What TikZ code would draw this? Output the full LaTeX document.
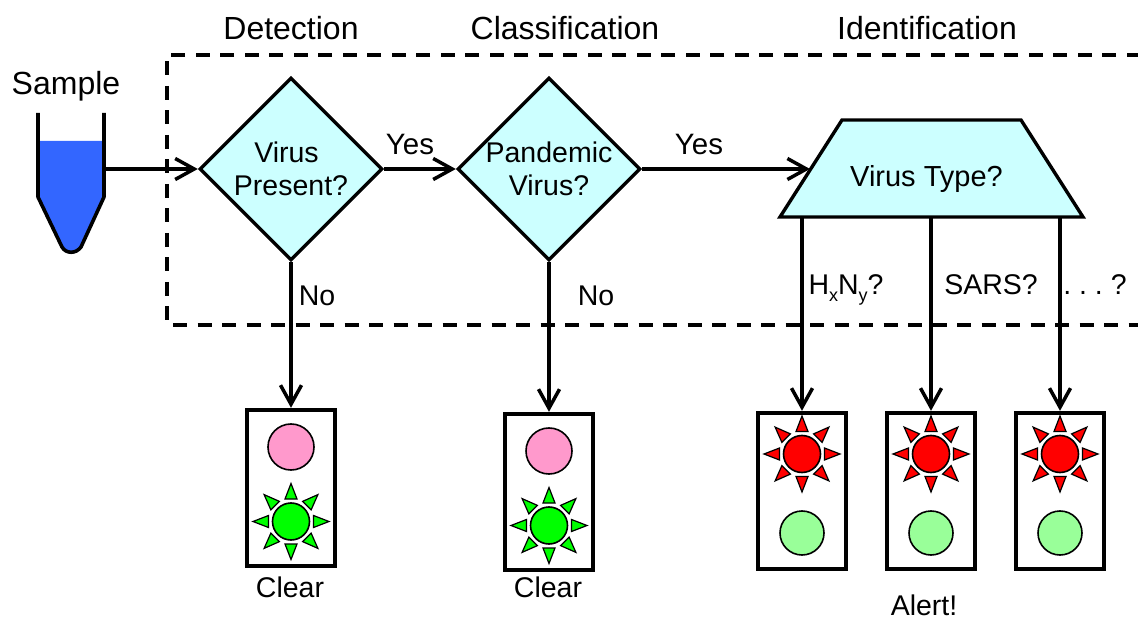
\documentclass[tikz,border=0pt]{standalone}
\usepackage{fontspec}
\setmainfont{Liberation Sans}
\usetikzlibrary{shapes.geometric,arrows.meta}
\definecolor{decision}{HTML}{CCFFFF}
\definecolor{liquid}{HTML}{3366FF}
\definecolor{pinkoff}{HTML}{FF99CC}
\definecolor{greenon}{HTML}{00FF00}
\definecolor{greenoff}{HTML}{99FF99}
\definecolor{redon}{HTML}{FF0000}
\frenchspacing
\newcommand{\lowsub}[1]{\raisebox{-6.5pt}{\fontsize{18}{18}\selectfont #1}}
\tikzset{
  lbl/.style={font=\fontsize{28.5}{33}\selectfont,anchor=base,inner sep=0pt,align=center},
  yeslbl/.style={font=\fontsize{29.5}{33}\selectfont,anchor=base,inner sep=0pt},
  heading/.style={font=\fontsize{32}{36}\selectfont,anchor=base,inner sep=0pt},
  decide/.style={diamond,aspect=1,draw=black,fill=decision,line width=3.4pt,inner sep=0pt,
     minimum width=183pt,minimum height=183pt,align=center,font=\fontsize{28.5}{33}\selectfont},
  vtype/.style={draw=black,fill=decision,line width=3.4pt,line join=miter},
  conn/.style={line width=3.5pt,-{Straight Barb[length=19pt,width=21pt,line width=3.5pt]}},
  frame/.style={draw=black,line width=4.4pt,inner sep=0pt,minimum width=88pt,minimum height=156pt},
  lamp/.style={circle,draw=black,line width=1.6pt,inner sep=0pt,minimum size=#1},
  ray/.style={draw=black,line width=1.2pt,line join=miter},
  boxdash/.style={line width=3.6pt,dash pattern=on 14pt off 10.5pt,dash phase=2.5pt},
  tube/.style={draw=black,line width=3.6pt,line join=round},
}
\newcommand{\sunrays}[2]{%
  \foreach \a in {0,45,...,315}{%
    \filldraw[fill=#2,ray] ([shift={(\a:38)}]#1.center)
      -- ([shift={(\a:22.5)},shift={(\a+90:6)}]#1.center)
      -- ([shift={(\a:22.5)},shift={(\a-90:6)}]#1.center) -- cycle;
  }}
\begin{document}
\begin{tikzpicture}[x=1pt,y=-1pt]
\useasboundingbox (0,0) rectangle (1138,620);
% dashed frame
\draw[boxdash] (1138,55) -- (167,55) -- (167,325) -- (1138,325);
% headings
\node[heading] (hdet) at (291,40) {Detection};
\node[heading] (hcla) at (565,40) {Classification};
\node[heading] (hide) at (927,40) {Identification};
\node[heading] (hsam) at (66,95) {Sample};
% tube
\fill[liquid] (38,141) -- (38,197) -- (62,247) .. controls (66,254) and (76,254) .. (81,247) -- (104,197) -- (104,141) -- cycle;
\draw[tube] (38,113) -- (38,197) -- (62,247) .. controls (66,254) and (76,254) .. (81,247) -- (104,197) -- (104,113);
\coordinate (tubeout) at (104,169);
% decisions
\node[decide] (d1) at (291,169) {\hspace*{-9pt}Virus\\Present?};
\node[decide] (d2) at (549,169) {Pandemic\\Virus?};
\filldraw[vtype] (780,217) -- (842,120) -- (1021,120) -- (1083,217) -- cycle;
\node[lbl,font=\fontsize{29}{33}\selectfont] (vt) at (926.5,187) {Virus Type?};
\coordinate (vtin) at (810,169);
\coordinate (vtbase) at (931,217);
% traffic-light frames
\node[frame] (b1) at (291,488) {};
\node[frame] (b2) at (549,492) {};
\node[frame] (b3) at (802,491) {};
\node[frame] (b4) at (931,491) {};
\node[frame] (b5) at (1060,491) {};
% lamps
\node[lamp=46pt,fill=pinkoff] (p1) at (291,447) {};
\node[lamp=46pt,fill=pinkoff] (p2) at (549,451) {};
\node[lamp=37pt,fill=greenon] (g1) at (291,521.5) {};
\node[lamp=37pt,fill=greenon] (g2) at (549,525.5) {};
\node[lamp=37pt,fill=redon] (r3) at (802,454) {};
\node[lamp=37pt,fill=redon] (r4) at (931,454) {};
\node[lamp=37pt,fill=redon] (r5) at (1060,454) {};
\node[lamp=44pt,fill=greenoff] (o3) at (802,533) {};
\node[lamp=44pt,fill=greenoff] (o4) at (931,533) {};
\node[lamp=44pt,fill=greenoff] (o5) at (1060,533) {};
\sunrays{g1}{greenon}
\sunrays{g2}{greenon}
\sunrays{r3}{redon}
\sunrays{r4}{redon}
\sunrays{r5}{redon}
% connectors
\draw[conn] (tubeout) -- (d1.west);
\draw[conn] (d1.east) -- (d2.west);
\draw[conn] (d2.east) -- (vtin);
\draw[conn] (d1.south) -- (b1.north);
\draw[conn] (d2.south) -- (b2.north);
\draw[conn] (vtbase -| b3.north) -- (b3.north);
\draw[conn] (vtbase -| b4.north) -- (b4.north);
\draw[conn] (vtbase -| b5.north) -- (b5.north);
% labels
\node[yeslbl] (yes1) at (410,155) {Yes};
\node[yeslbl] (yes2) at (699,155) {Yes};
\node[lbl] (no1) at (317,306) {No};
\node[lbl] (no2) at (596,306) {No};
\node[lbl] (q1) at (846,295) {H\lowsub{x}N\lowsub{y}?};
\node[lbl] (q2) at (991,295) {SARS?};
\node[lbl] (q3) at (1095,295) {. . . ?};
\node[lbl] (c1) at (290,597) {Clear};
\node[lbl] (c2) at (548,597) {Clear};
\node[lbl] (al) at (924,615) {Alert!};
\end{tikzpicture}
\end{document}
